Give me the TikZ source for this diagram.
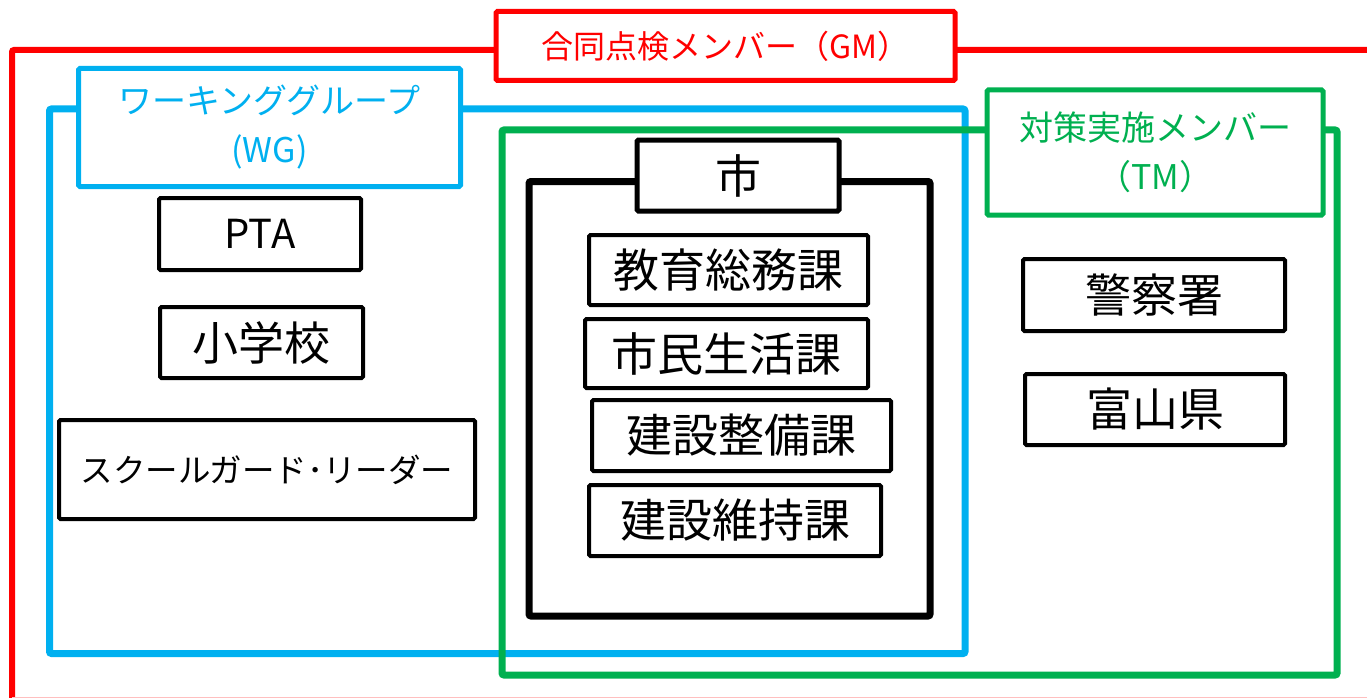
\documentclass[tikz,border=0pt]{standalone}
\usepackage{fontspec}
\setmainfont{Noto Sans CJK JP}
\definecolor{gmred}{HTML}{FF0000}
\definecolor{wgblue}{HTML}{00B0F0}
\definecolor{tmgreen}{HTML}{00B050}
\begin{document}
\begin{tikzpicture}[x=1pt,y=-1pt,
  box/.style={draw=black,line width=4pt,rounded corners=1.5pt,fill=white,inner sep=0pt,anchor=center,
    font=\fontsize{46}{50}\selectfont},
  labelbox/.style={line width=5pt,rounded corners=1.5pt,fill=white,inner sep=0pt,align=center,
    font=\fontsize{34}{49}\selectfont},
  frameline/.style={line width=7pt,rounded corners=2pt}]
\useasboundingbox (0,0) rectangle (1367,698);
\clip (0,0) rectangle (1367,698);
% GM frame
\draw[gmred,line width=6pt,rounded corners=2pt] (12,700) -- (12,50) -- (1390,50);
\draw[gmred!25,line width=1pt] (12,697.5) -- (1367,697.5);
\node[labelbox,draw=gmred,text=gmred,minimum width=459pt,minimum height=69pt,font=\fontsize{32}{36}\selectfont] (gm) at (725.5,46) {合同点検メンバー（GM）};
% WG frame
\draw[wgblue,frameline] (49.5,109) rectangle (965,653.5);
\node[labelbox,draw=wgblue,text=wgblue,minimum width=382pt,minimum height=118pt] (wg) at (269.5,127.5) {ワーキンググループ\\(WG)};
% TM frame
\draw[tmgreen,frameline] (502,130) rectangle (1337,675);
\node[labelbox,draw=tmgreen,text=tmgreen,minimum width=336pt,minimum height=125pt] (tm) at (1155,152.5) {対策実施メンバー\\（TM）};
% City frame
\draw[black,frameline] (529,181.5) rectangle (930,616);
\node[box,line width=5pt,minimum width=202pt,minimum height=71pt] (city) at (738,175.5) {市};
% WG members
\node[box,minimum width=202pt,minimum height=72pt,font=\fontsize{40}{44}\selectfont] (pta) at (260,234) {PTA};
\node[box,minimum width=203pt,minimum height=71pt] (school) at (261.5,342.5) {小学校};
\node[box,minimum width=416pt,minimum height=99pt,font=\fontsize{32.5}{36}\selectfont] (sgl) at (267,469.5) {スクールガード･リーダー};
% City members
\node[box,minimum width=279pt,minimum height=70pt] (kyoiku) at (728.5,270) {教育総務課};
\node[box,minimum width=283pt,minimum height=69pt] (shimin) at (726.5,353.5) {市民生活課};
\node[box,minimum width=299pt,minimum height=71pt] (seibi) at (741.5,435.5) {建設整備課};
\node[box,minimum width=292pt,minimum height=71pt] (iji) at (735,520.5) {建設維持課};
% TM members
\node[box,minimum width=262pt,minimum height=72pt] (police) at (1154,295) {警察署};
\node[box,minimum width=260pt,minimum height=71pt] (pref) at (1155,409.5) {富山県};
\end{tikzpicture}
\end{document}
